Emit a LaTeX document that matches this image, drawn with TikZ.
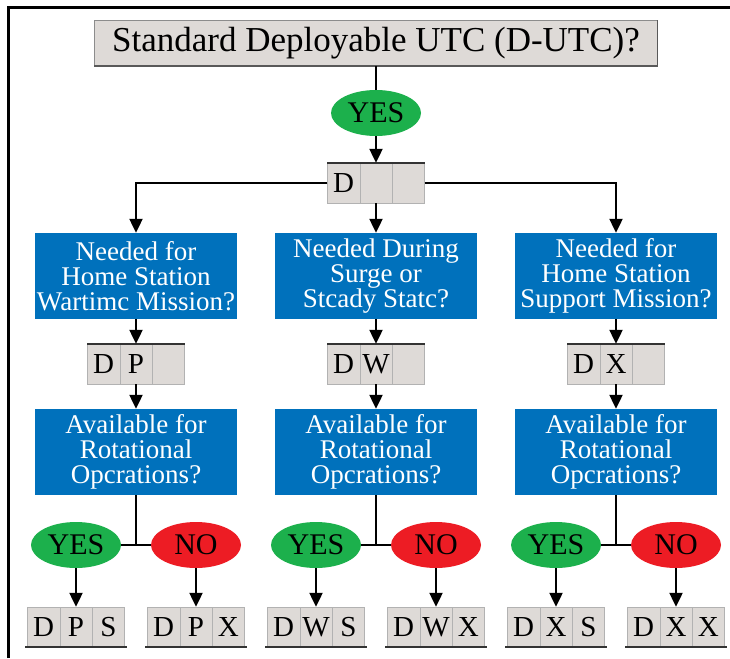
\documentclass[tikz,border=0pt]{standalone}
\usepackage{fontspec}
\setmainfont{Liberation Serif}
\usetikzlibrary{shapes.geometric, shapes.multipart, arrows.meta, positioning}
\definecolor{boxblue}{RGB}{0,113,188}
\definecolor{yesgreen}{RGB}{28,176,76}
\definecolor{nored}{RGB}{237,28,36}
\definecolor{cellgray}{RGB}{222,218,215}
\newcommand{\cellx}[1]{\makebox[32pt]{\rule[-11pt]{0pt}{40pt}#1}}
\tikzstyle{titlebox} = [
  rectangle,
  minimum width=563pt,
  minimum height=46pt,
  inner sep=0pt,
  text centered,
  draw=black!45,
  fill=cellgray,
  font=\fontsize{35}{38}\selectfont
]
\tikzstyle{question} = [
  rectangle,
  minimum width=202pt,
  minimum height=86pt,
  inner sep=0pt,
  align=center,
  fill=boxblue,
  text=white,
  font=\fontsize{27}{25}\selectfont
]
\tikzstyle{yesbubble} = [
  ellipse,
  minimum width=90pt,
  minimum height=46pt,
  inner sep=0pt,
  fill=yesgreen,
  font=\fontsize{30}{32}\selectfont
]
\tikzstyle{nobubble} = [
  ellipse,
  minimum width=90pt,
  minimum height=46pt,
  inner sep=0pt,
  fill=nored,
  font=\fontsize{30}{32}\selectfont
]
\tikzstyle{codebox} = [
  rectangle split,
  rectangle split horizontal,
  rectangle split parts=3,
  inner sep=0pt,
  draw=black!30,
  fill=cellgray,
  font=\fontsize{29}{30}\selectfont
]
\tikzstyle{arrow} = [line width=2.2pt, -{Triangle[width=13pt,length=14pt]}]
\tikzstyle{line} = [line width=2.2pt]

\begin{document}
\begin{tikzpicture}[x=1pt, y=1pt, node distance=90pt]
    \useasboundingbox (0,0) rectangle (730,-658);
    \draw [line width=3pt] (8,-658) -- (8,-8) -- (730,-8);

    \node (title) [titlebox] at (376,-43) {Standard Deployable UTC (D-UTC)?};
    \node (yes0) [yesbubble, below of=title, yshift=20pt] {YES};
    \node (d) [codebox, below of=yes0, yshift=20pt] {\cellx{D}\nodepart{two}\cellx{}\nodepart{three}\cellx{}};
    \node (surge) [question, below of=d, yshift=-3pt] {Needed During\\Surge or\\Stcady Statc?};
    \node (wartime) [question, left of=surge, xshift=-150pt] {Needed for\\Home Station\\Wartimc Mission?};
    \node (support) [question, right of=surge, xshift=150pt] {Needed for\\Home Station\\Support Mission?};
    \node (dp) [codebox, below of=wartime, yshift=2pt] {\cellx{D}\nodepart{two}\cellx{P}\nodepart{three}\cellx{}};
    \node (dw) [codebox, below of=surge, yshift=2pt] {\cellx{D}\nodepart{two}\cellx{W}\nodepart{three}\cellx{}};
    \node (dx) [codebox, below of=support, yshift=2pt] {\cellx{D}\nodepart{two}\cellx{X}\nodepart{three}\cellx{}};
    \node (avail-p) [question, below of=dp, yshift=2pt] {Available for\\Rotational\\Opcrations?};
    \node (avail-w) [question, below of=dw, yshift=2pt] {Available for\\Rotational\\Opcrations?};
    \node (avail-x) [question, below of=dx, yshift=2pt] {Available for\\Rotational\\Opcrations?};
    \node (yes-p) [yesbubble, below of=avail-p, xshift=-60pt, yshift=-3pt] {YES};
    \node (no-p) [nobubble, below of=avail-p, xshift=60pt, yshift=-3pt] {NO};
    \node (yes-w) [yesbubble, below of=avail-w, xshift=-60pt, yshift=-3pt] {YES};
    \node (no-w) [nobubble, below of=avail-w, xshift=60pt, yshift=-3pt] {NO};
    \node (yes-x) [yesbubble, below of=avail-x, xshift=-60pt, yshift=-3pt] {YES};
    \node (no-x) [nobubble, below of=avail-x, xshift=60pt, yshift=-3pt] {NO};
    \node (dps) [codebox, below of=yes-p, yshift=8pt] {\cellx{D}\nodepart{two}\cellx{P}\nodepart{three}\cellx{S}};
    \node (dpx) [codebox, below of=no-p, yshift=8pt] {\cellx{D}\nodepart{two}\cellx{P}\nodepart{three}\cellx{X}};
    \node (dws) [codebox, below of=yes-w, yshift=8pt] {\cellx{D}\nodepart{two}\cellx{W}\nodepart{three}\cellx{S}};
    \node (dwx) [codebox, below of=no-w, yshift=8pt] {\cellx{D}\nodepart{two}\cellx{W}\nodepart{three}\cellx{X}};
    \node (dxs) [codebox, below of=yes-x, yshift=8pt] {\cellx{D}\nodepart{two}\cellx{X}\nodepart{three}\cellx{S}};
    \node (dxx) [codebox, below of=no-x, yshift=8pt] {\cellx{D}\nodepart{two}\cellx{X}\nodepart{three}\cellx{X}};
    \coordinate (split-p) at (avail-p |- yes-p);
    \coordinate (split-w) at (avail-w |- yes-w);
    \coordinate (split-x) at (avail-x |- yes-x);

    % shaded edges of the boxes
    \draw [line width=1.5pt, black!65] (title.south west) -- (title.south east) -- (title.north east);
    \foreach \c in {d, dp, dw, dx}
      \draw [line width=1.5pt, black!80] (\c.north west) -- (\c.north east);
    \foreach \c in {dps, dpx, dws, dwx, dxs, dxx}
      \draw [line width=1.5pt, black!80] ([xshift=-2pt]\c.south west) -- ([xshift=2pt]\c.south east);

    \draw [line] (title) -- (yes0);
    \draw [arrow] (yes0) -- (d);
    \draw [arrow] (d.west) -| (wartime);
    \draw [arrow] (d) -- (surge);
    \draw [arrow] (d.east) -| (support);
    \draw [arrow] (wartime) -- (dp);
    \draw [arrow] (surge) -- (dw);
    \draw [arrow] (support) -- (dx);
    \draw [arrow] (dp) -- (avail-p);
    \draw [arrow] (dw) -- (avail-w);
    \draw [arrow] (dx) -- (avail-x);
    \draw [line] (avail-p) -- (split-p);
    \draw [line] (avail-w) -- (split-w);
    \draw [line] (avail-x) -- (split-x);
    \draw [line] (yes-p) -- (no-p);
    \draw [line] (yes-w) -- (no-w);
    \draw [line] (yes-x) -- (no-x);
    \draw [arrow] (yes-p) -- (dps);
    \draw [arrow] (no-p) -- (dpx);
    \draw [arrow] (yes-w) -- (dws);
    \draw [arrow] (no-w) -- (dwx);
    \draw [arrow] (yes-x) -- (dxs);
    \draw [arrow] (no-x) -- (dxx);
  \end{tikzpicture}
\end{document}
